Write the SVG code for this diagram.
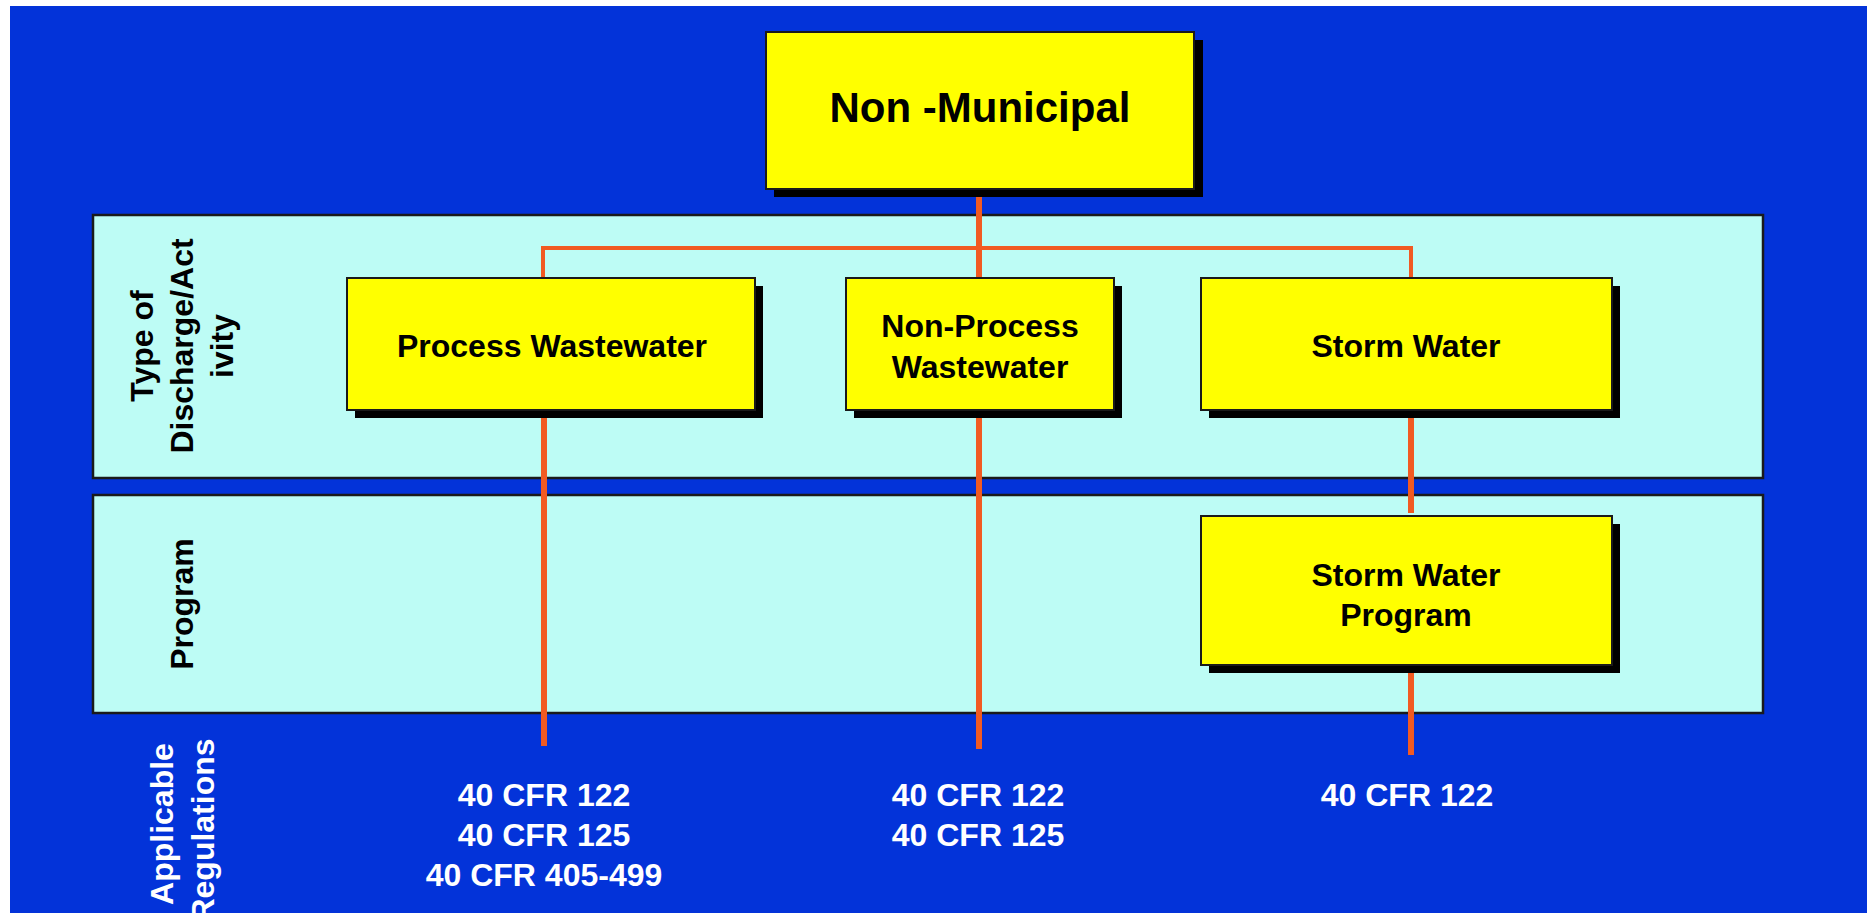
<svg xmlns="http://www.w3.org/2000/svg" width="1872" height="913" viewBox="0 0 1872 913">
  <style>
    .bg { fill: #0333d9; }
    .band { fill: #bdfcf5; stroke: #1a1a1a; stroke-width: 2.5; }
    .shadow { fill: #000; }
    .box { fill: #ffff00; stroke: #1a1a1a; stroke-width: 2; }
    .conn { stroke: #f15a22; fill: none; }
    .t { font-family: "Liberation Sans", Arial, Helvetica, sans-serif; font-weight: bold; text-anchor: middle; }
    .dark { fill: #000; }
    .light { fill: #fff; }
    .big { font-size: 42px; }
    .mid { font-size: 32px; }
  </style>

  <!-- page and backdrop -->
  <rect x="0" y="0" width="1872" height="913" fill="#fff"/>
  <rect class="bg" x="10" y="6" width="1857" height="907"/>

  <!-- horizontal bands -->
  <g id="band-type">
    <rect class="band" x="93" y="215" width="1670" height="263"/>
    <text class="t dark mid" transform="translate(153,346) rotate(-90)">Type of</text>
    <text class="t dark mid" transform="translate(193,346) rotate(-90)">Discharge/Act</text>
    <text class="t dark mid" transform="translate(233,346) rotate(-90)">ivity</text>
  </g>
  <g id="band-program">
    <rect class="band" x="93" y="495" width="1670" height="218"/>
    <text class="t dark mid" transform="translate(193,604) rotate(-90)">Program</text>
  </g>
  <g id="label-regulations">
    <text class="t light mid" transform="translate(173,824) rotate(-90)">Applicable</text>
    <text class="t light mid" transform="translate(214,830) rotate(-90)">Regulations</text>
  </g>

  <!-- connectors -->
  <g id="connectors">
    <line class="conn" stroke-width="6" x1="979" y1="189" x2="979" y2="278"/>
    <line class="conn" stroke-width="4" x1="541" y1="248" x2="1413" y2="248"/>
    <line class="conn" stroke-width="4" x1="543" y1="248" x2="543" y2="278"/>
    <line class="conn" stroke-width="4" x1="1411" y1="248" x2="1411" y2="278"/>
    <line class="conn" stroke-width="6" x1="544" y1="410" x2="544" y2="746"/>
    <line class="conn" stroke-width="6" x1="979" y1="410" x2="979" y2="749"/>
    <line class="conn" stroke-width="6" x1="1411" y1="410" x2="1411" y2="513"/>
    <line class="conn" stroke-width="6" x1="1411" y1="665" x2="1411" y2="755"/>
  </g>

  <!-- nodes -->
  <g id="node-non-municipal">
    <rect class="shadow" x="774" y="40" width="429" height="157"/>
    <rect class="box" x="766" y="32" width="428" height="157"/>
    <text class="t dark big" x="980" y="122">Non -Municipal</text>
  </g>
  <g id="node-process">
    <rect class="shadow" x="355" y="286" width="408" height="132"/>
    <rect class="box" x="347" y="278" width="408" height="132"/>
    <text class="t dark mid" x="552" y="357">Process Wastewater</text>
  </g>
  <g id="node-non-process">
    <rect class="shadow" x="854" y="286" width="268" height="132"/>
    <rect class="box" x="846" y="278" width="268" height="132"/>
    <text class="t dark mid" x="980" y="337">Non-Process</text>
    <text class="t dark mid" x="980" y="378">Wastewater</text>
  </g>
  <g id="node-storm-water">
    <rect class="shadow" x="1209" y="286" width="411" height="132"/>
    <rect class="box" x="1201" y="278" width="411" height="132"/>
    <text class="t dark mid" x="1406" y="357">Storm Water</text>
  </g>
  <g id="node-storm-program">
    <rect class="shadow" x="1209" y="524" width="411" height="149"/>
    <rect class="box" x="1201" y="516" width="411" height="149"/>
    <text class="t dark mid" x="1406" y="586">Storm Water</text>
    <text class="t dark mid" x="1406" y="626">Program</text>
  </g>

  <!-- regulation lists -->
  <g id="regs-process">
    <text class="t light mid" x="544" y="806">40 CFR 122</text>
    <text class="t light mid" x="544" y="846">40 CFR 125</text>
    <text class="t light mid" x="544" y="886">40 CFR 405-499</text>
  </g>
  <g id="regs-non-process">
    <text class="t light mid" x="978" y="806">40 CFR 122</text>
    <text class="t light mid" x="978" y="846">40 CFR 125</text>
  </g>
  <g id="regs-storm">
    <text class="t light mid" x="1407" y="806">40 CFR 122</text>
  </g>
</svg>
